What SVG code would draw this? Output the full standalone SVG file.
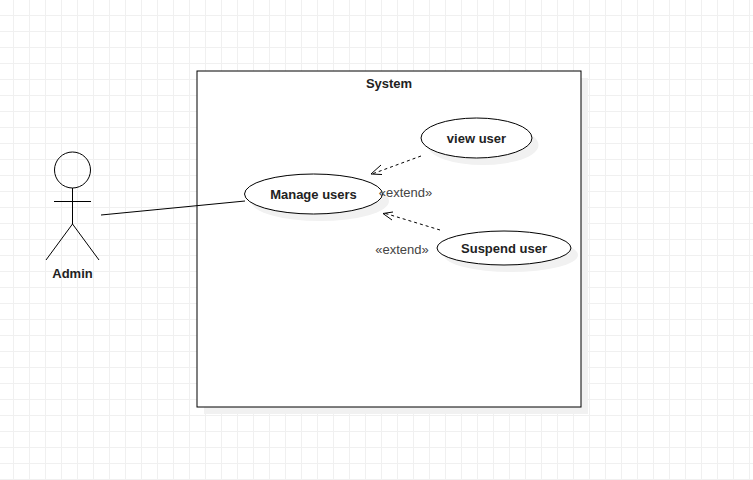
<svg xmlns="http://www.w3.org/2000/svg" width="753" height="480" viewBox="0 0 753 480">
<style>
.shape{fill:#fff;stroke:#000;stroke-width:1}
.shadow{fill:#f1f1f1;stroke:none}
.line{fill:none;stroke:#000;stroke-width:1}
.dash{stroke-dasharray:3 3}
text{font-family:"Liberation Sans",Arial,sans-serif;font-size:13px;text-anchor:middle}
.b{font-weight:bold;fill:#222}
.e{fill:#444}
</style>
<defs>
<pattern id="grid" width="16" height="16" patternUnits="userSpaceOnUse" x="13" y="15">
<path d="M.5 0V16M0 .5H16" fill="none" stroke="#f0f0f0" stroke-width="1"/>
</pattern>
</defs>
<rect width="753" height="480" fill="#fff"/>
<rect width="753" height="480" fill="url(#grid)"/>
<g id="system">
<rect class="shadow" x="204" y="78" width="384" height="336"/>
<rect class="shape" x="197" y="71" width="384" height="336"/>
<text class="b" x="389" y="88">System</text>
</g>
<g id="admin">
<circle class="line" cx="72.500" cy="170" r="18"/>
<path class="line" d="M72.500 188V224M54 201.500H91M72.500 224L46 260M72.500 224L99 260"/>
<text class="b" x="72.500" y="278">Admin</text>
</g>
<g id="connectors">
<path class="line" d="M101 215L245 201"/>
<path class="line dash" d="M421 156L372 174"/>
<path class="line" d="M381 165L371 174L382 174.500"/>
<path class="line dash" d="M440 230L384 213"/>
<path class="line" d="M393 212L383 213.500L392 220"/>
</g>
<g id="manage-users">
<ellipse class="shadow" cx="320" cy="201" rx="69" ry="20"/>
<ellipse class="shape" cx="313.500" cy="194" rx="69" ry="20"/>
<text class="b" x="313.500" y="199">Manage users</text>
</g>
<g id="view-user">
<ellipse class="shadow" cx="483" cy="145" rx="55.500" ry="20"/>
<ellipse class="shape" cx="476.500" cy="138" rx="55.500" ry="20"/>
<text class="b" x="476.500" y="143">view user</text>
</g>
<g id="suspend-user">
<ellipse class="shadow" cx="511" cy="255" rx="67" ry="17"/>
<ellipse class="shape" cx="504" cy="248" rx="67" ry="17"/>
<text class="b" x="504" y="253">Suspend user</text>
</g>
<g id="labels">
<text class="e" x="405.500" y="197">«extend»</text>
<text class="e" x="402" y="254">«extend»</text>
</g>
</svg>
